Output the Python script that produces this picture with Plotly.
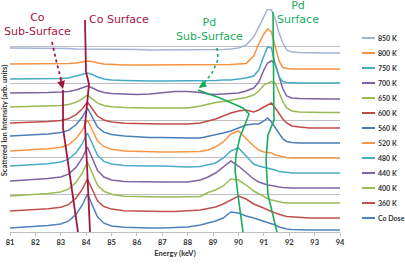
import plotly.graph_objects as go

# ---------------- data ----------------
energy = [81, 81.5, 82, 82.5, 83, 83.3, 83.6, 83.85, 84.05, 84.25, 84.45, 84.7, 85, 85.5,
          86, 86.5, 87, 87.5, 88, 88.5, 88.8, 89.1, 89.4, 89.7, 90.0, 90.3, 90.6, 90.8,
          91.0, 91.15, 91.3, 91.45, 91.6, 91.75, 91.9, 92.1, 92.4, 92.8, 93.4, 94]

series_names = ["Co Dose", "360 K", "400 K", "440 K", "480 K", "520 K", "560 K",
                "600 K", "650 K", "700 K", "750 K", "800 K", "850 K"]

series_colors = ["#4F81BD", "#C0504D", "#9BBB59", "#8064A2", "#4BACC6", "#F79646", "#4A7EBB",
                 "#BE4B48", "#98B954", "#7D60A0", "#46AAC5", "#F69240", "#A3B3D6"]

co_dose = [4, 4.7, 5.4, 6.4, 8.1, 10.8, 17.6, 27, 38, 26.4, 14.9, 8.8, 6, 4.7, 4, 4, 4, 4.5,
           5, 7, 9, 11, 14, 20, 19, 16, 14, 12.5, 11, 10, 8.5, 7, 5, 4, 3, 2.5, 2, 2, 2, 2]
t360 = [21, 21.6, 22.3, 23.2, 24.8, 27.4, 33.8, 42.8, 53, 42, 31, 25.5, 22.9, 21.3, 20.8, 20.5, 20.5, 20.5,
        21, 22, 23.5, 25, 28, 32, 36, 33, 28, 26, 23.5, 22, 20.5, 19, 17.5, 16.5, 15.5, 15, 14.5, 14, 14, 14]
t400 = [36, 36.7, 37.4, 38.4, 40, 42.8, 49.6, 59, 70, 58.3, 46.8, 40.7, 37.8, 35.8, 35.3, 35, 35, 35,
        35, 35.5, 39.5, 42, 46, 53, 52, 47, 41, 38, 35, 33.5, 32, 31, 30, 29.5, 29, 29, 29, 29, 29, 29]
t440 = [51, 51.7, 52.4, 53.4, 55, 57.8, 64.6, 74, 85, 73, 61.5, 55, 52, 50.6, 50.2, 50, 50, 50,
        50, 52, 55, 59, 65, 71, 66, 59, 53, 50, 48, 47, 46.5, 45.5, 45, 44.5, 44, 44, 44, 44, 44, 44]
t480 = [66, 66.7, 67.3, 68.3, 70, 72.6, 79.2, 88.4, 99, 87.8, 76.6, 70.6, 68, 66.6, 66, 66, 66, 65.5,
        65, 65.5, 67, 69, 74, 81, 84, 76, 68, 66, 65, 64, 63, 62, 60.5, 60, 59, 59, 59, 59, 59, 59]
t520 = [81, 81.6, 82.2, 83.2, 84.7, 87.2, 93.4, 102, 112, 101.5, 91, 85.3, 82.7, 81, 80.5, 80, 80, 80,
        80, 80.5, 82, 85, 90, 98, 101, 93, 86, 82, 80, 79.5, 79, 77, 76, 75, 74.5, 74, 74, 74, 74, 74]
t560 = [96, 96.6, 97.1, 98, 99.4, 101.6, 107.2, 115, 124, 114.5, 105, 99.9, 97.6, 96, 95, 94.5, 94.5, 94,
        94, 94, 95.5, 97, 99, 101, 104, 107, 108, 108, 111, 114, 110, 104, 98, 93, 90.5, 89.5, 89, 89, 89, 89]
t600 = [109, 109.4, 109.8, 110.5, 111.5, 113.2, 117.4, 123.3, 130, 122.8, 115.7, 112, 110, 108.8, 108.3, 108, 108, 108,
        108, 109, 111, 113, 116, 119, 121, 122, 120, 122, 125, 127, 129, 124, 118, 113, 109, 106, 105, 104, 104, 104]
t650 = [125, 125.2, 125.5, 125.8, 126.4, 127.4, 129.8, 133.2, 137, 132.9, 128.8, 126.6, 125.2, 124.5, 124, 124, 124, 124,
        124, 126, 128, 129.5, 130.5, 132, 133.5, 134.5, 137, 141, 147, 149, 150.5, 149, 139, 130, 124, 121, 120, 119.5, 119.5, 119.5]
t700 = [139, 139, 139, 139.5, 140, 140.5, 142, 144, 146, 144, 141.5, 139.5, 138.5, 138, 137.5, 138, 139, 140.5,
        140.5, 139.5, 138, 137.5, 138, 138.5, 139, 141, 144, 150, 162, 169, 171, 168, 155, 143, 136, 134, 133.5, 133, 133, 133]
t750 = [153, 153, 153, 153, 153.5, 154, 156, 158, 159, 157.5, 155, 153, 152, 151.5, 151, 151, 151, 151,
        151, 151, 151, 151.5, 152, 152, 153, 154, 156, 162, 176, 185, 184, 167, 155, 150.5, 149.5, 149, 149, 149, 149, 149]
t800 = [168, 168, 168, 168, 168, 168.5, 169, 170, 171, 170.5, 169, 168, 167.5, 167, 167, 167, 167, 167,
        167, 167, 167, 167, 167, 167.5, 168, 168.5, 176, 188, 198, 203, 200, 184, 171, 164.5, 163.5, 163, 163, 163, 163, 163]
t850 = [184, 184, 184, 183.5, 183.5, 183.5, 183, 183, 183, 183, 183, 183, 182.5, 182.5, 182.5, 182, 182, 182,
        182, 182, 182, 182, 182.5, 183, 184, 187, 195, 205, 215, 223, 222, 213, 199, 189, 182, 180, 179.5, 179, 179, 179]

series_values = [co_dose, t360, t400, t440, t480, t520, t560, t600, t650, t700, t750, t800, t850]

x_ticks = [81, 82, 83, 84, 85, 86, 87, 88, 89, 90, 91, 92, 93, 94]

# hand-drawn guide lines (energy, intensity)
co_surface_line = [(83.955, 212), (83.994, 160), (84.112, 148), (84.033, 127), (83.955, 107), (84.033, 67), (84.152, 0)]
co_sub_line = [(83.088, 142), (83.088, 104), (83.679, 0)]
co_sub_dots = [(82.655, 190), (82.85, 168), (83.0, 154), (83.088, 144)]
pd_surface_line = [(91.361, 220), (91.4, 112), (91.164, 97), (91.085, 72), (91.164, 37), (91.518, 0)]
pd_sub_line = [(88.406, 142), (89.273, 134), (90.179, 124), (90.415, 118), (90.297, 110), (90.061, 95),
               (89.903, 77), (89.864, 62), (89.982, 37), (90.179, 0)]
pd_sub_dots = [(89.155, 184), (89.194, 175), (89.155, 170), (88.958, 159), (88.682, 150), (88.445, 144)]

CO_RED = "#A3173F"
PD_GREEN = "#17AD5C"

fig = go.Figure()
for name, vals, col in zip(series_names, series_values, series_colors):
    fig.add_trace(go.Scatter(x=energy, y=vals, mode="lines", name=name,
                             line=dict(color=col, width=1.5), showlegend=False))


def path_of(pts):
    return "M " + " L ".join(f"{x},{y}" for x, y in pts)


shapes = []
for pts, col, dash, w in [(co_surface_line, CO_RED, "solid", 1.8), (co_sub_line, CO_RED, "solid", 1.8),
                          (co_sub_dots, CO_RED, "dot", 1.8), (pd_surface_line, PD_GREEN, "solid", 1.6),
                          (pd_sub_line, PD_GREEN, "solid", 1.6), (pd_sub_dots, PD_GREEN, "dot", 1.6)]:
    shapes.append(dict(type="path", xref="x", yref="y", path=path_of(pts),
                       line=dict(color=col, width=w, dash=dash), layer="above"))

# manual legend (Excel-style compact spacing)
annotations = []
PLOT_L, PLOT_R, PLOT_T, PLOT_B = 10, 340, 9, 232
pw, ph = PLOT_R - PLOT_L, PLOT_B - PLOT_T
for i, (name, col) in enumerate(zip(series_names[::-1], series_colors[::-1])):
    py = 38 + 15 * i
    yp = (PLOT_B - py) / ph
    shapes.append(dict(type="line", xref="paper", yref="paper", x0=(362 - PLOT_L) / pw, x1=(375 - PLOT_L) / pw,
                       y0=yp, y1=yp, line=dict(color=col, width=2)))
    annotations.append(dict(xref="paper", yref="paper", x=(376 - PLOT_L) / pw, y=yp, text=name,
                            showarrow=False, xanchor="left", yanchor="middle",
                            font=dict(family="Lato", size=7, color="#333333", weight="bold")))

txt_font = dict(family="DejaVu Sans", size=11)
annotations += [
    dict(x=82.10, y=208, text="Co<br>Sub-Surface", showarrow=False, xanchor="center", yanchor="middle",
         font=dict(color=CO_RED, **txt_font)),
    dict(x=84.03, y=213, text="Co Surface", showarrow=False, xanchor="left", yanchor="middle",
         font=dict(color=CO_RED, **txt_font)),
    dict(x=88.84, y=202.5, text="Pd<br>Sub-Surface", showarrow=False, xanchor="center", yanchor="middle",
         font=dict(color=PD_GREEN, **txt_font)),
    dict(x=92.35, y=219.5, text="Pd<br>Surface", showarrow=False, xanchor="center", yanchor="middle",
         font=dict(color=PD_GREEN, **txt_font)),
    dict(x=83.088, y=143, ax=-3, ay=-12, text="", showarrow=True, arrowhead=2, arrowsize=1,
         arrowwidth=1.6, arrowcolor=CO_RED),
    dict(x=88.445, y=144, ax=8, ay=-6, text="", showarrow=True, arrowhead=2, arrowsize=1,
         arrowwidth=1.5, arrowcolor=PD_GREEN),
]

axis_font = dict(family="Lato", size=7.5, color="#333333", weight="bold")
fig.update_layout(
    width=405, height=267,
    margin=dict(l=PLOT_L, r=405 - PLOT_R, t=PLOT_T, b=267 - PLOT_B),
    paper_bgcolor="white", plot_bgcolor="white",
    shapes=shapes, annotations=annotations,
    xaxis=dict(range=[81, 94], tickvals=x_ticks, ticktext=[str(t) for t in x_ticks],
               showgrid=False, zeroline=False, showline=True, linecolor="#BFBFBF", linewidth=1,
               ticks="outside", ticklen=3, tickcolor="#BFBFBF", tickfont=axis_font,
               title=dict(text="Energy (keV)", font=axis_font, standoff=4), automargin=False),
    yaxis=dict(range=[0, 223], tick0=0, dtick=223 / 6, showticklabels=False, showgrid=True,
               gridcolor="#BFBFBF", gridwidth=1, zeroline=False, showline=False,
               title=dict(text="Scattered Ion Intensity (arb. units)", font=axis_font, standoff=0),
               automargin=False),
)

fig.write_html("out.html")
